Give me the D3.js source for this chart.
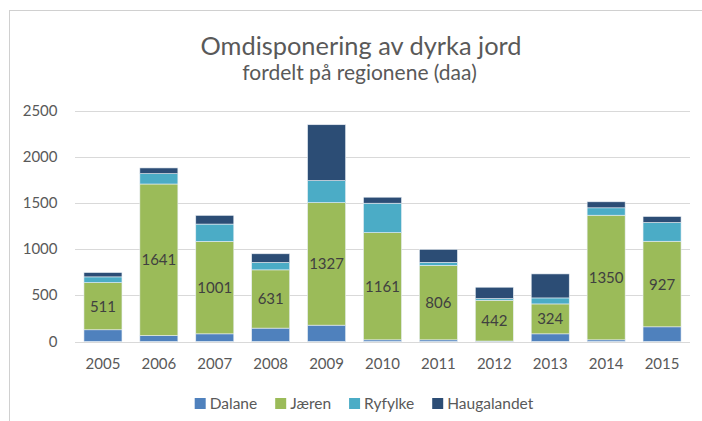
<!DOCTYPE html>
<html>
<head>
<meta charset="utf-8">
<script src="https://cdn.jsdelivr.net/npm/d3@7"></script>
<style>
  html, body { margin: 0; padding: 0; background: #fff; }
  svg { display: block; }
  text { font-family: Lato, "Open Sans", sans-serif; }
</style>
</head>
<body>
<div id="chart"></div>
<script>
// data (daa)
var years = ["2005", "2006", "2007", "2008", "2009", "2010", "2011", "2012", "2013", "2014", "2015"];
var dalane = [127, 65, 83, 145, 177, 18, 18, 5, 83, 18, 159];
var jaeren = [511, 1641, 1001, 631, 1327, 1161, 806, 442, 324, 1350, 927];
var ryfylke = [62, 112, 188, 80, 239, 319, 33, 18, 65, 80, 203];
var haugalandet = [47, 62, 94, 94, 605, 65, 141, 123, 260, 65, 65];
var yTicks = [0, 500, 1000, 1500, 2000, 2500];

var seriesNames = ["Dalane", "Jæren", "Ryfylke", "Haugalandet"];
var seriesColors = ["#4F81BD", "#9BBB59", "#4BACC6", "#2C4D75"];

var W = 702, H = 421;
// plot area
var margin = { top: 110.7, left: 75, right: 12, bottom: 79.5 };

var svg = d3.select("#chart").append("svg")
  .attr("width", W)
  .attr("height", H);

// chart frame (runs off the right / bottom edge in the original)
svg.append("rect")
  .attr("x", 9.5).attr("y", 10.5)
  .attr("width", W + 20).attr("height", H + 20)
  .attr("fill", "#fff")
  .attr("stroke", "#D0D0D0")
  .attr("stroke-width", 1);

// build rows for the stack
var rows = years.map(function (y, i) {
  return { year: y, Dalane: dalane[i], "Jæren": jaeren[i], Ryfylke: ryfylke[i], Haugalandet: haugalandet[i] };
});
var stacked = d3.stack().keys(seriesNames)(rows);

var x = d3.scaleBand()
  .domain(years)
  .range([margin.left, W - margin.right])
  .paddingInner(0.32)
  .paddingOuter(0.16);

var y = d3.scaleLinear()
  .domain([0, 2500])
  .range([H - margin.bottom, margin.top]);

// gridlines
svg.append("g")
  .selectAll("line")
  .data(yTicks)
  .enter()
  .append("line")
  .attr("x1", margin.left)
  .attr("x2", W - margin.right)
  .attr("y1", function (d) { return Math.round(y(d)) + 0.5; })
  .attr("y2", function (d) { return Math.round(y(d)) + 0.5; })
  .attr("stroke", "#D9D9D9")
  .attr("stroke-width", 1);

// y axis labels
svg.append("g")
  .selectAll("text")
  .data(yTicks)
  .enter()
  .append("text")
  .attr("x", 57.5)
  .attr("y", function (d) { return y(d) + 5; })
  .attr("text-anchor", "end")
  .attr("font-size", 15)
  .attr("fill", "#595959")
  .text(function (d) { return d; });

// bars
var layer = svg.append("g")
  .selectAll("g")
  .data(stacked)
  .enter()
  .append("g")
  .attr("fill", function (d, i) { return seriesColors[i]; });

layer.selectAll("rect")
  .data(function (d) { return d; })
  .enter()
  .append("rect")
  .attr("x", function (d) { return x(d.data.year); })
  .attr("width", x.bandwidth())
  .attr("y", function (d) { return y(d[1]); })
  .attr("height", function (d) { return y(d[0]) - y(d[1]); })
  .attr("stroke", "#E8EEF4")
  .attr("stroke-width", 0.6);

// Jæren value labels
svg.append("g")
  .selectAll("text")
  .data(stacked[1])
  .enter()
  .append("text")
  .attr("x", function (d) { return x(d.data.year) + x.bandwidth() / 2; })
  .attr("y", function (d) { return (y(d[0]) + y(d[1])) / 2 + 5.5; })
  .attr("text-anchor", "middle")
  .attr("font-size", 15)
  .attr("fill", "#404040")
  .text(function (d) { return d.data["Jæren"]; });

// x axis labels
svg.append("g")
  .selectAll("text")
  .data(years)
  .enter()
  .append("text")
  .attr("x", function (d) { return x(d) + x.bandwidth() / 2; })
  .attr("y", 369)
  .attr("text-anchor", "middle")
  .attr("font-size", 15)
  .attr("fill", "#595959")
  .text(function (d) { return d; });

// titles
svg.append("text")
  .attr("x", 361).attr("y", 55)
  .attr("text-anchor", "middle")
  .attr("font-size", 25.4)
  .attr("fill", "#595959")
  .text("Omdisponering av dyrka jord");

svg.append("text")
  .attr("x", 359.5).attr("y", 80)
  .attr("text-anchor", "middle")
  .attr("font-size", 21)
  .attr("fill", "#595959")
  .text("fordelt på regionene (daa)");

// legend
var legend = svg.append("g");
var lx = 0;
seriesNames.forEach(function (name, i) {
  var item = legend.append("g").attr("transform", "translate(" + lx + ",0)");
  item.append("rect")
    .attr("x", 0).attr("y", 398)
    .attr("width", 11).attr("height", 11)
    .attr("fill", seriesColors[i]);
  var t = item.append("text")
    .attr("x", 15).attr("y", 409)
    .attr("font-size", 15.5)
    .attr("fill", "#595959")
    .text(name);
  lx += 15 + t.node().getComputedTextLength() + 18;
});
var legendWidth = lx - 18;
legend.attr("transform", "translate(" + (364 - legendWidth / 2) + ",0)");
</script>
</body>
</html>
